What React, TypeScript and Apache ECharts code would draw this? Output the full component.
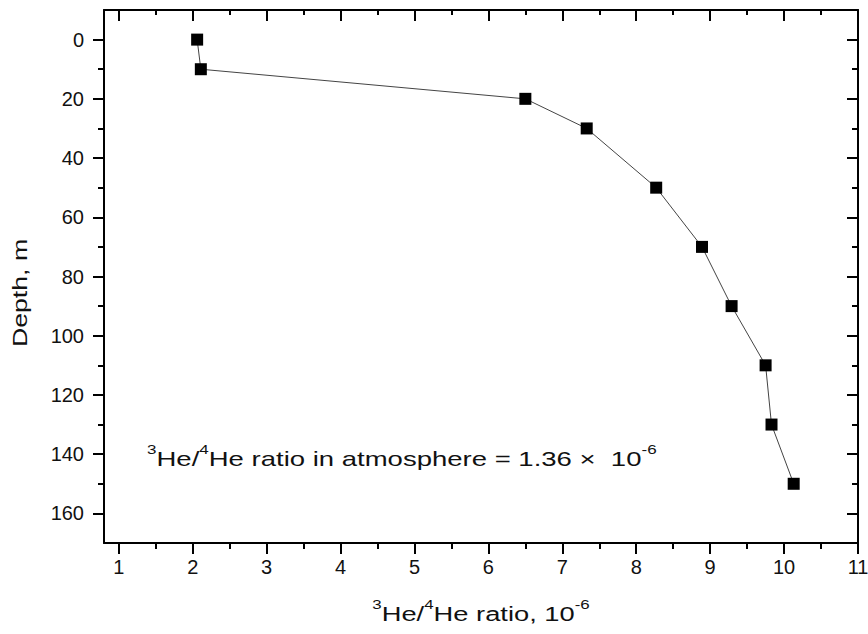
import React, { useEffect, useRef } from "react";
import * as echarts from "echarts";

const depth = [0, 10, 20, 30, 50, 70, 90, 110, 130, 150];
const ratio = [2.06, 2.11, 6.5, 7.33, 8.27, 8.89, 9.29, 9.75, 9.83, 10.13];

const xMajorTicks = [1, 2, 3, 4, 5, 6, 7, 8, 9, 10, 11];
const xMinorTicks = [1.5, 2.5, 3.5, 4.5, 5.5, 6.5, 7.5, 8.5, 9.5, 10.5];
const yMajorTicks = [0, 20, 40, 60, 80, 100, 120, 140, 160];
const yMinorTicks = [10, 30, 50, 70, 90, 110, 130, 150];

const X_MIN = 0.8;
const X_MAX = 11;
const Y_MIN = -10;
const Y_MAX = 170;

const FONT = "'Liberation Sans', Arial, sans-serif";
const INK = "#111";

const annotationText = "{s|3}{n|He/}{s|4}{n|He ratio in atmosphere = 1.36 ×  10}{s|-6}";
const xTitleText = "{s|3}{n|He/}{s|4}{n|He ratio, 10}{s|-6}";
const yTitleText = "Depth, m";

export default function App() {
  const ref = useRef<HTMLDivElement>(null);

  useEffect(() => {
    if (!ref.current) return;
    const chart = echarts.init(ref.current, null, { renderer: "svg" });

    const line = { color: "#000", width: 2 };
    const xAxisBase = (
      position: string,
      ticks: number[],
      len: number,
      inside: boolean,
      showLine: boolean,
      showLabel: boolean
    ) => ({
      type: "value",
      gridIndex: 0,
      position,
      min: X_MIN,
      max: X_MAX,
      axisLine: { show: showLine, onZero: false, lineStyle: line },
      axisTick: {
        show: true,
        inside,
        length: len,
        customValues: ticks,
        lineStyle: { color: "#000", width: 2 },
      },
      axisLabel: showLabel
        ? {
            show: true,
            customValues: ticks,
            fontSize: 20,
            fontFamily: FONT,
            color: INK,
            margin: 14,
          }
        : { show: false },
      splitLine: { show: false },
    });
    const yAxisBase = (
      position: string,
      ticks: number[],
      len: number,
      inside: boolean,
      showLine: boolean,
      showLabel: boolean
    ) => ({
      type: "value",
      gridIndex: 0,
      position,
      inverse: true,
      min: Y_MIN,
      max: Y_MAX,
      axisLine: { show: showLine, onZero: false, lineStyle: line },
      axisTick: {
        show: true,
        inside,
        length: len,
        customValues: ticks,
        lineStyle: { color: "#000", width: 2 },
      },
      axisLabel: showLabel
        ? {
            show: true,
            customValues: ticks,
            fontSize: 20,
            fontFamily: FONT,
            color: INK,
            margin: 20,
          }
        : { show: false },
      splitLine: { show: false },
    });

    const rich = (size: number) => ({
      n: { fontSize: size, fontFamily: FONT, fill: INK, lineHeight: 32 },
      s: { fontSize: 13, fontFamily: FONT, fill: INK, lineHeight: 13, verticalAlign: "top" },
    });

    chart.setOption({
      animation: false,
      backgroundColor: "#fff",
      grid: {
        left: 104,
        right: 10,
        top: 10,
        bottom: 91,
        containLabel: false,
        outerBoundsMode: "none",
      },
      xAxis: [
        xAxisBase("bottom", xMajorTicks, 11, false, true, true),
        xAxisBase("bottom", xMinorTicks, 6, false, false, false),
        xAxisBase("top", xMajorTicks, 11, true, true, false),
        xAxisBase("top", xMinorTicks, 5, true, false, false),
      ],
      yAxis: [
        yAxisBase("left", yMajorTicks, 11, false, true, true),
        yAxisBase("left", yMinorTicks, 6, false, false, false),
        yAxisBase("right", yMajorTicks, 11, true, true, false),
        yAxisBase("right", yMinorTicks, 6, true, false, false),
      ],
      series: [
        {
          type: "line",
          xAxisIndex: 0,
          yAxisIndex: 0,
          data: ratio.map((r, i) => [r, depth[i]]),
          symbol: "rect",
          symbolSize: 12,
          itemStyle: { color: "#000" },
          lineStyle: { color: "#444", width: 1 },
          z: 5,
        },
      ],
      graphic: [
        {
          type: "text",
          x: 147,
          y: 459,
          scaleX: 1.31,
          style: {
            text: annotationText,
            rich: rich(21),
            textAlign: "left",
            textVerticalAlign: "middle",
            fill: INK,
          },
        },
        {
          type: "text",
          x: 481,
          y: 614,
          scaleX: 1.3,
          style: {
            text: xTitleText,
            rich: rich(21),
            textAlign: "center",
            textVerticalAlign: "middle",
            fill: INK,
          },
        },
        {
          type: "text",
          x: 20,
          y: 293,
          rotation: Math.PI / 2,
          scaleX: 1.27,
          style: {
            text: yTitleText,
            font: `21px ${FONT}`,
            textAlign: "center",
            textVerticalAlign: "middle",
            fill: INK,
          },
        },
      ],
    });

    return () => chart.dispose();
  }, []);

  return (
    <div
      ref={ref}
      style={{ position: "fixed", left: 0, top: 0, width: 868, height: 634 }}
    />
  );
}
